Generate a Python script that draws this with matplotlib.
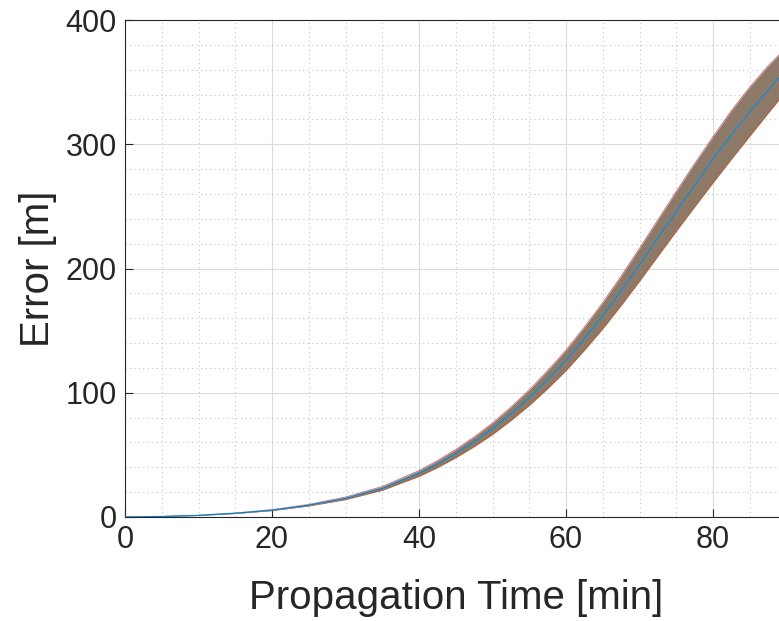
import numpy as np
import matplotlib.pyplot as plt

# propagation time [min] and error envelope [m]
t_min = [0, 5, 10, 15, 20, 25, 30, 35, 40, 42.5, 45, 47.5, 50, 52.5, 55, 57.5,
         60, 62.5, 65, 67.5, 70, 72.5, 75, 77.5, 80, 82.5, 85, 87.5, 90]
err_lo = [0, 0.37, 1.22, 2.8, 5.14, 8.88, 14.0, 21.5, 32.7, 39.7, 47.7, 56.6, 66.4, 77.6, 89.8, 103.3,
          117.8, 134.2, 151.5, 170.2, 189.8, 209.9, 230.0, 249.6, 269.0, 288.0, 306.5, 325.0, 343.0]
err_mean = [0, 0.4, 1.3, 3.0, 5.5, 9.5, 15.0, 23.0, 35.0, 42.5, 51.0, 60.5, 71.0, 83.0, 96.0, 110.5,
            126.0, 143.5, 162.0, 182.0, 203.0, 224.5, 246.0, 267.0, 288.0, 307.5, 326.0, 343.5, 360.0]
err_hi = [0, 0.43, 1.38, 3.2, 5.86, 10.1, 16.0, 24.5, 37.3, 45.3, 54.3, 64.4, 75.6, 88.4, 102.2, 117.7,
          134.2, 152.8, 172.5, 193.8, 216.2, 239.1, 262.0, 284.4, 306.0, 327.0, 346.0, 363.0, 378.0]

plt.rcParams['font.family'] = ['Liberation Sans', 'DejaVu Sans']
ink = '#262626'

fig = plt.figure(figsize=(7.79, 6.21), dpi=100)
# axes box runs slightly past the right edge of the picture (cropped original)
ax = fig.add_axes([125/779, 104/621, 661.5/779, 497/621])

# bundle of runs: filled envelope plus a few coloured traces
ax.fill_between(t_min, err_lo, err_hi, color='#8c7967', lw=0, zorder=2)
ax.plot(t_min, err_lo, color='#D95319', lw=0.7, alpha=0.6, zorder=3)
ax.plot(t_min, err_hi, color='#A2142F', lw=0.7, alpha=0.6, zorder=3)
ax.plot(t_min, err_mean, color='#4DBEEE', lw=1.0, alpha=0.8, zorder=4)
ax.plot(t_min, err_mean, color='#0072BD', lw=0.6, zorder=4)

ax.set_xlim(0, 90)
ax.set_ylim(0, 400)
ax.set_xticks(np.arange(0, 81, 20))
ax.set_yticks(np.arange(0, 401, 100))
ax.set_xticks(np.arange(0, 91, 5), minor=True)
ax.set_yticks(np.arange(0, 401, 20), minor=True)

ax.grid(True, which='major', color='#dcdcdc', lw=0.8, zorder=0)
ax.grid(True, which='minor', color='#c4c4c4', lw=0.8, ls=(0, (1, 3)), zorder=0)
ax.set_axisbelow(True)

ax.tick_params(which='major', direction='in', length=6, width=0.8, colors=ink,
               labelsize=22, top=False, right=False, pad=6)
ax.tick_params(which='minor', length=0)
for s in ax.spines.values():
    s.set_color(ink)
    s.set_linewidth(0.8)

ax.set_xlabel('Propagation Time [min]', fontsize=29, color=ink, labelpad=17)
ax.set_ylabel('Error [m]', fontsize=29, color=ink, labelpad=6)

fig.savefig('out.png', dpi=100)
